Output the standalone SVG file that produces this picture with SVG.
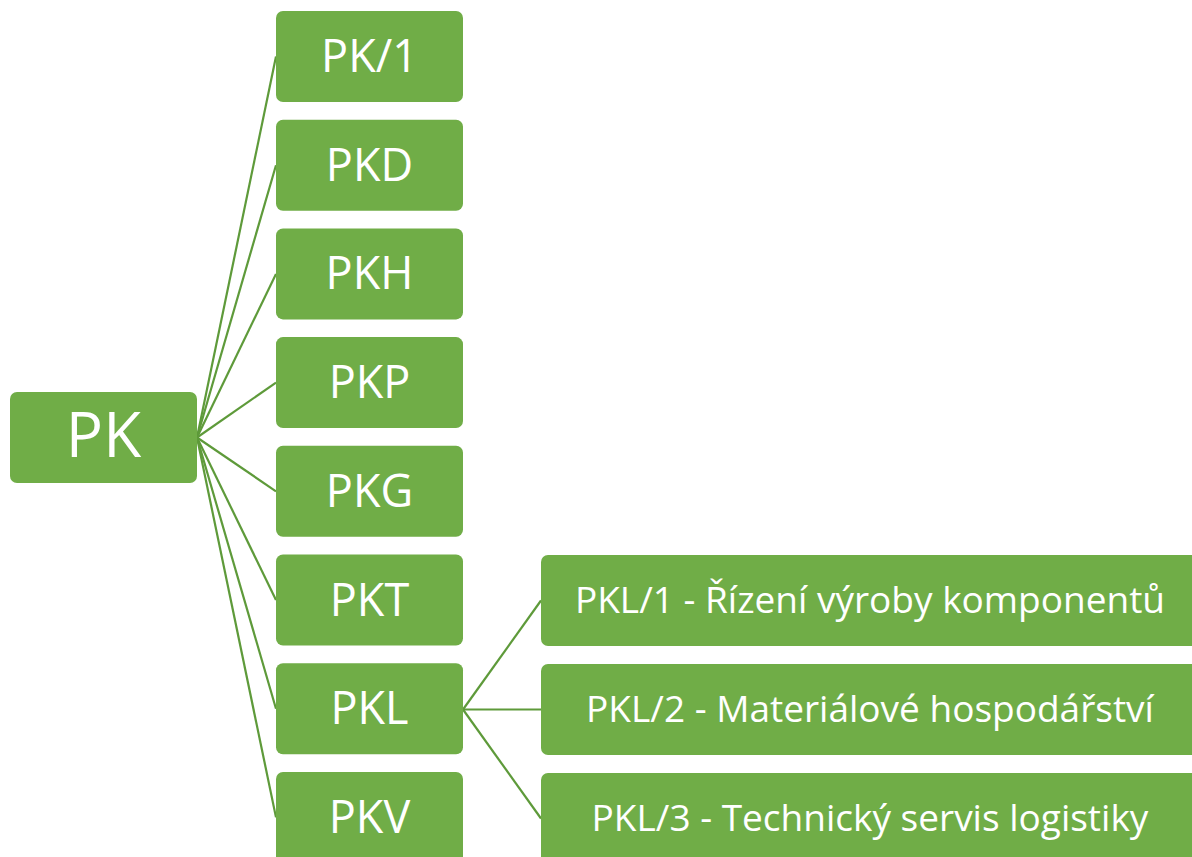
<svg xmlns="http://www.w3.org/2000/svg" width="1192" height="857" viewBox="0 0 1192 857">
<style>
.n{fill:#70AD47;}
.t{fill:#fff;font-family:"Open Sans","Noto Sans",sans-serif;text-anchor:middle;}
.c{stroke:#5E9A3A;stroke-width:2.2;fill:none;}
</style>
<rect width="1192" height="857" fill="#fff"/>
<g id="connectors">
<line class="c" x1="197" y1="437.5" x2="276" y2="56.5"/>
<line class="c" x1="197" y1="437.5" x2="276" y2="165.2"/>
<line class="c" x1="197" y1="437.5" x2="276" y2="273.9"/>
<line class="c" x1="197" y1="437.5" x2="276" y2="382.6"/>
<line class="c" x1="197" y1="437.5" x2="276" y2="491.3"/>
<line class="c" x1="197" y1="437.5" x2="276" y2="600"/>
<line class="c" x1="197" y1="437.5" x2="276" y2="708.7"/>
<line class="c" x1="197" y1="437.5" x2="276" y2="817.4"/>
<line class="c" x1="463" y1="709.5" x2="541" y2="600.5"/>
<line class="c" x1="463" y1="709.5" x2="541" y2="709.5"/>
<line class="c" x1="463" y1="709.5" x2="541" y2="818.5"/>
</g>
<g id="PK"><rect class="n" x="10" y="392" width="187" height="91" rx="7"/><text class="t" x="103.5" y="457" font-size="62">PK</text></g>
<g id="PK1"><rect class="n" x="276" y="11" width="187" height="91" rx="7"/><text class="t" x="369.5" y="72" font-size="45">PK/1</text></g>
<g id="PKD"><rect class="n" x="276" y="119.7" width="187" height="91" rx="7"/><text class="t" x="369.5" y="180.7" font-size="45">PKD</text></g>
<g id="PKH"><rect class="n" x="276" y="228.4" width="187" height="91" rx="7"/><text class="t" x="369.5" y="289.4" font-size="45">PKH</text></g>
<g id="PKP"><rect class="n" x="276" y="337.1" width="187" height="91" rx="7"/><text class="t" x="369.5" y="398.1" font-size="45">PKP</text></g>
<g id="PKG"><rect class="n" x="276" y="445.8" width="187" height="91" rx="7"/><text class="t" x="369.5" y="506.8" font-size="45">PKG</text></g>
<g id="PKT"><rect class="n" x="276" y="554.5" width="187" height="91" rx="7"/><text class="t" x="369.5" y="615.5" font-size="45">PKT</text></g>
<g id="PKL"><rect class="n" x="276" y="663.2" width="187" height="91" rx="7"/><text class="t" x="369.5" y="724.2" font-size="45">PKL</text></g>
<g id="PKV"><rect class="n" x="276" y="771.9" width="187" height="91" rx="7"/><text class="t" x="369.5" y="832.9" font-size="45">PKV</text></g>
<g id="PKL1"><rect class="n" x="541" y="555" width="660" height="91" rx="7"/><text class="t" x="870" y="612.5" font-size="37">PKL/1 - Řízení výroby komponentů</text></g>
<g id="PKL2"><rect class="n" x="541" y="664" width="660" height="91" rx="7"/><text class="t" x="870" y="721.5" font-size="37">PKL/2 - Materiálové hospodářství</text></g>
<g id="PKL3"><rect class="n" x="541" y="773" width="660" height="91" rx="7"/><text class="t" x="870" y="830.5" font-size="37">PKL/3 - Technický servis logistiky</text></g>
</svg>
